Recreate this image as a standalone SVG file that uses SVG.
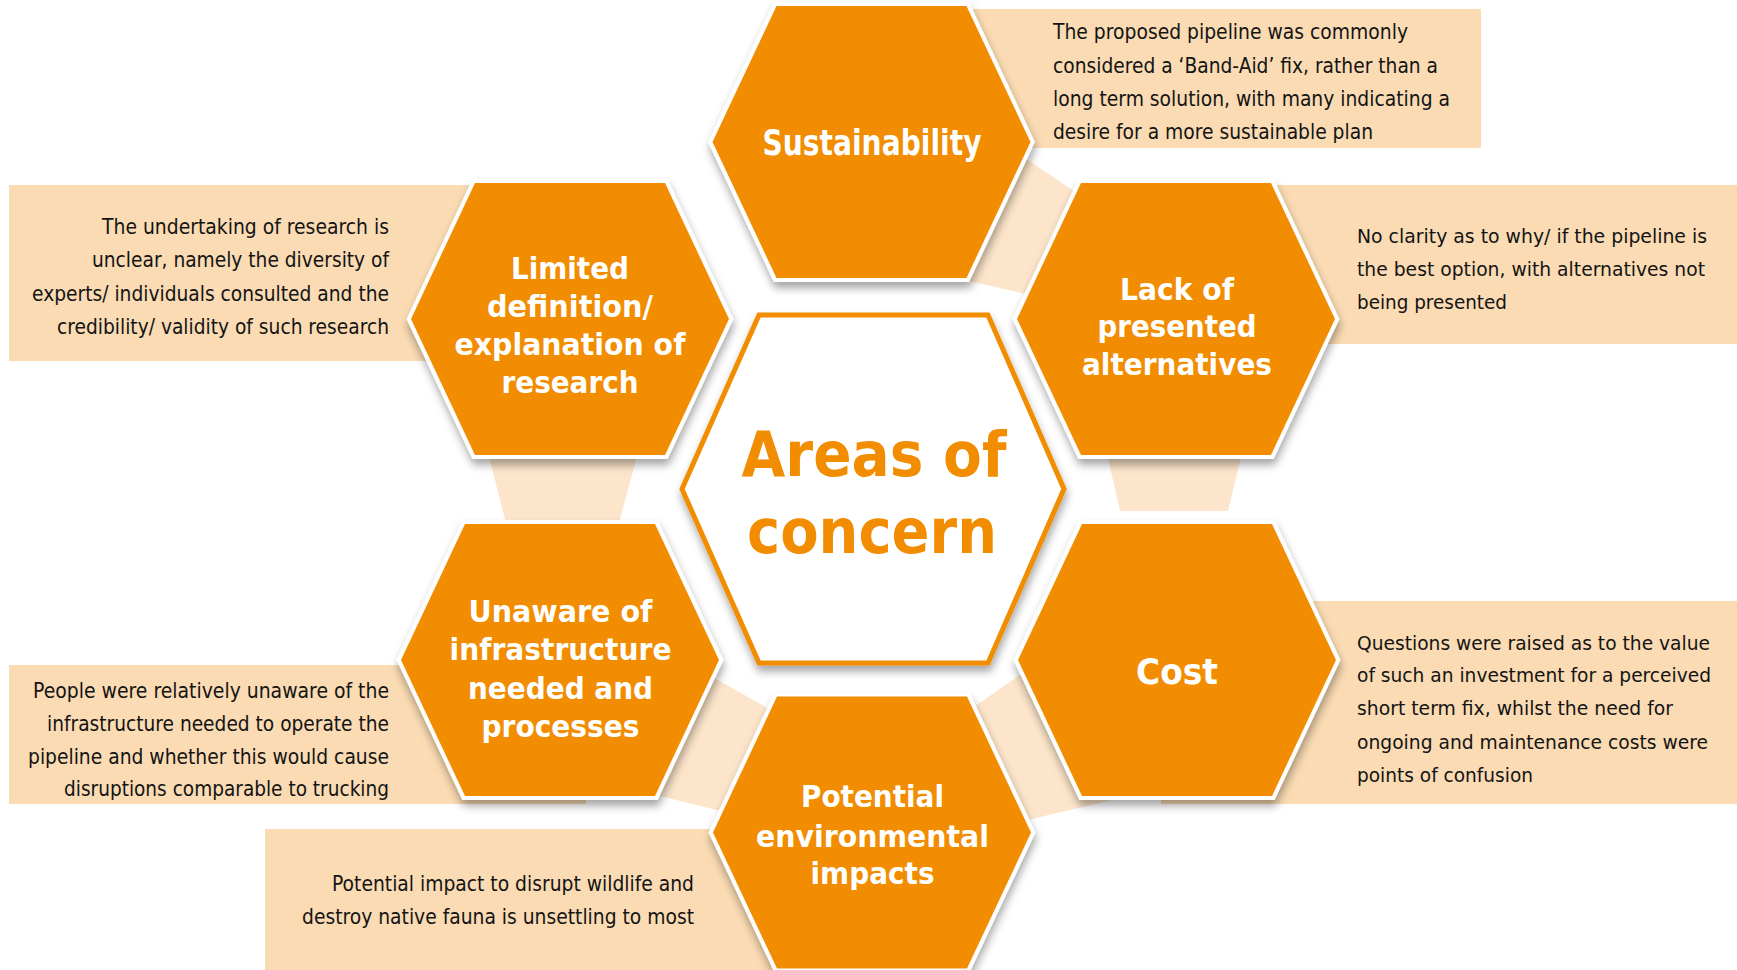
<svg xmlns="http://www.w3.org/2000/svg" xmlns:xlink="http://www.w3.org/1999/xlink" width="1737" height="970" viewBox="0 0 1737 970">
<style>
.bg{fill:#ffffff}
.box{fill:#FADBB3}
.band{fill:#FCE5CA}
.hex{fill:#F28C00;stroke:#ffffff;stroke-width:8;paint-order:stroke;stroke-linejoin:miter}
.core{fill:#ffffff;stroke:#F28C00;stroke-width:5;stroke-linejoin:miter}
.lbl{font-family:"DejaVu Sans",Verdana,sans-serif;font-weight:bold;fill:#ffffff;text-anchor:middle;font-size:31px}
.big{font-size:35px}
.title{font-family:"DejaVu Sans",Verdana,sans-serif;font-weight:bold;fill:#F28C00;text-anchor:middle;font-size:63px}
.body{font-family:"DejaVu Sans",Verdana,sans-serif;font-size:21px;fill:#141414}
.rb{font-size:19.5px}
.end{text-anchor:end}
</style>
<defs>
<filter id="sh" x="-20%" y="-20%" width="140%" height="150%">
<feDropShadow dx="1" dy="6" stdDeviation="4" flood-color="#000000" flood-opacity="0.35"/>
</filter>
<polygon id="hx" points="-95,-136 95,-136 159,0 95,136 -95,136 -159,0"/>
</defs>
<rect class="bg" x="0" y="0" width="1737" height="970"/>

<g id="connectors">
<polygon class="band" points="1007,146 1093,204 1040,297 950,277"/>
<polygon class="band" points="486,445 640,445 619,523 506,523"/>
<polygon class="band" points="1105,445 1244,445 1228,511 1120,511"/>
<polygon class="band" points="700,670 780,715 725,812 652,794"/>
<polygon class="band" points="955,720 1030,668 1125,797 1015,823"/>
</g>

<g id="node-sustainability">
<rect class="box" x="940" y="9" width="541" height="139"/>
<use xlink:href="#hx" href="#hx" x="871.5" y="142" class="hex" filter="url(#sh)"/>
<text class="lbl big" x="872" y="155" textLength="219" lengthAdjust="spacingAndGlyphs">Sustainability</text>
<text class="body" x="1053" y="39" textLength="355" lengthAdjust="spacingAndGlyphs">The proposed pipeline was commonly</text>
<text class="body" x="1053" y="72.5" textLength="385" lengthAdjust="spacingAndGlyphs">considered a ‘Band-Aid’ fix, rather than a</text>
<text class="body" x="1053" y="106" textLength="397" lengthAdjust="spacingAndGlyphs">long term solution, with many indicating a</text>
<text class="body" x="1053" y="139" textLength="320" lengthAdjust="spacingAndGlyphs">desire for a more sustainable plan</text>
</g>

<g id="node-limited-definition">
<rect class="box" x="9" y="185" width="551" height="176"/>
<use xlink:href="#hx" href="#hx" x="570" y="319" class="hex" filter="url(#sh)"/>
<text class="lbl" x="570" y="278.5" textLength="118" lengthAdjust="spacingAndGlyphs">Limited</text>
<text class="lbl" x="570" y="316.5" textLength="166" lengthAdjust="spacingAndGlyphs">definition/</text>
<text class="lbl" x="570" y="355" textLength="231" lengthAdjust="spacingAndGlyphs">explanation of</text>
<text class="lbl" x="570" y="393" textLength="137" lengthAdjust="spacingAndGlyphs">research</text>
<text class="body end" x="389" y="233.5" textLength="287" lengthAdjust="spacingAndGlyphs">The undertaking of research is</text>
<text class="body end" x="389" y="267" textLength="297" lengthAdjust="spacingAndGlyphs">unclear, namely the diversity of</text>
<text class="body end" x="389" y="300.5" textLength="357" lengthAdjust="spacingAndGlyphs">experts/ individuals consulted and the</text>
<text class="body end" x="389" y="334" textLength="332" lengthAdjust="spacingAndGlyphs">credibility/ validity of such research</text>
</g>

<g id="node-lack-of-alternatives">
<rect class="box" x="1200" y="185" width="537" height="159"/>
<use xlink:href="#hx" href="#hx" x="1176" y="319" class="hex" filter="url(#sh)"/>
<text class="lbl" x="1177" y="299.5" textLength="114" lengthAdjust="spacingAndGlyphs">Lack of</text>
<text class="lbl" x="1177" y="337" textLength="159" lengthAdjust="spacingAndGlyphs">presented</text>
<text class="lbl" x="1177" y="375" textLength="190" lengthAdjust="spacingAndGlyphs">alternatives</text>
<text class="body rb" x="1357" y="242.5" textLength="350" lengthAdjust="spacingAndGlyphs">No clarity as to why/ if the pipeline is</text>
<text class="body rb" x="1357" y="275.5" textLength="348" lengthAdjust="spacingAndGlyphs">the best option, with alternatives not</text>
<text class="body rb" x="1357" y="308.5" textLength="150" lengthAdjust="spacingAndGlyphs">being presented</text>
</g>

<g id="node-unaware-infrastructure">
<rect class="box" x="9" y="665" width="577" height="139"/>
<use xlink:href="#hx" href="#hx" x="560" y="660" class="hex" filter="url(#sh)"/>
<text class="lbl" x="560.5" y="621.5" textLength="184" lengthAdjust="spacingAndGlyphs">Unaware of</text>
<text class="lbl" x="560.5" y="660" textLength="222" lengthAdjust="spacingAndGlyphs">infrastructure</text>
<text class="lbl" x="560.5" y="699" textLength="185" lengthAdjust="spacingAndGlyphs">needed and</text>
<text class="lbl" x="560.5" y="737" textLength="158" lengthAdjust="spacingAndGlyphs">processes</text>
<text class="body end" x="389" y="697.5" textLength="356" lengthAdjust="spacingAndGlyphs">People were relatively unaware of the</text>
<text class="body end" x="389" y="730.5" textLength="342" lengthAdjust="spacingAndGlyphs">infrastructure needed to operate the</text>
<text class="body end" x="389" y="763.5" textLength="361" lengthAdjust="spacingAndGlyphs">pipeline and whether this would cause</text>
<text class="body end" x="389" y="796" textLength="325" lengthAdjust="spacingAndGlyphs">disruptions comparable to trucking</text>
</g>

<g id="node-cost">
<rect class="box" x="1161" y="601" width="576" height="203"/>
<use xlink:href="#hx" href="#hx" x="1177" y="660" class="hex" filter="url(#sh)"/>
<text class="lbl big" x="1177" y="683.5" textLength="82" lengthAdjust="spacingAndGlyphs">Cost</text>
<text class="body rb" x="1357" y="649.5" textLength="353" lengthAdjust="spacingAndGlyphs">Questions were raised as to the value</text>
<text class="body rb" x="1357" y="682" textLength="354" lengthAdjust="spacingAndGlyphs">of such an investment for a perceived</text>
<text class="body rb" x="1357" y="715" textLength="316" lengthAdjust="spacingAndGlyphs">short term fix, whilst the need for</text>
<text class="body rb" x="1357" y="748.5" textLength="351" lengthAdjust="spacingAndGlyphs">ongoing and maintenance costs were</text>
<text class="body rb" x="1357" y="782" textLength="176" lengthAdjust="spacingAndGlyphs">points of confusion</text>
</g>

<g id="node-environmental-impacts">
<rect class="box" x="265" y="829" width="535" height="141"/>
<use xlink:href="#hx" href="#hx" x="872" y="832.5" class="hex" filter="url(#sh)"/>
<text class="lbl" x="872.5" y="807" textLength="143" lengthAdjust="spacingAndGlyphs">Potential</text>
<text class="lbl" x="872.5" y="846.5" textLength="233" lengthAdjust="spacingAndGlyphs">environmental</text>
<text class="lbl" x="872.5" y="883.5" textLength="124" lengthAdjust="spacingAndGlyphs">impacts</text>
<text class="body end" x="694" y="891" textLength="362" lengthAdjust="spacingAndGlyphs">Potential impact to disrupt wildlife and</text>
<text class="body end" x="694" y="923.5" textLength="392" lengthAdjust="spacingAndGlyphs">destroy native fauna is unsettling to most</text>
</g>

<g id="node-areas-of-concern">
<polygon class="core" points="759,315 988,315 1064,489 988,663 759,663 682,489" filter="url(#sh)"/>
<text class="title" x="874" y="476" textLength="265" lengthAdjust="spacingAndGlyphs">Areas of</text>
<text class="title" x="872" y="553" textLength="250" lengthAdjust="spacingAndGlyphs">concern</text>
</g>
</svg>
